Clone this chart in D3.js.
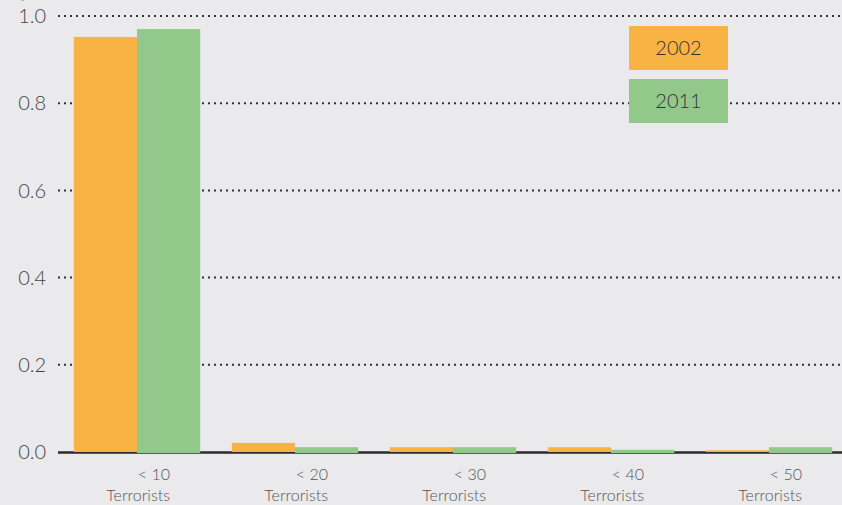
<!DOCTYPE html>
<html lang="en">
<head>
    <meta charset="UTF-8">
    <title>Terrorists per group, 2002 vs 2011</title>
    <script src="https://d3js.org/d3.v7.min.js"></script>
    <style>
        html, body { margin: 0; padding: 0; background: #eaeaec; overflow: hidden; }
        text { font-family: Lato, "Open Sans", sans-serif; font-weight: 300; }
    </style>
</head>
<body>
    <script>
        // data
        const categories = ["< 10", "< 20", "< 30", "< 40", "< 50"];
        const years = ["2002", "2011"];
        const values2002 = [0.952, 0.021, 0.011, 0.011, 0.004];
        const values2011 = [0.970, 0.011, 0.011, 0.005, 0.011];
        const yTicks = [0, 0.2, 0.4, 0.6, 0.8, 1.0];
        const colors = ["#f9b345", "#92c88a"];

        const width = 842, height = 505;
        const plotLeft = 58, plotTop = 16, plotBottom = 452;

        const svg = d3.select("body").append("svg")
            .attr("width", width)
            .attr("height", height);

        const y = d3.scaleLinear().domain([0, 1]).range([plotBottom, plotTop]);
        const x = d3.scaleBand().domain(categories)
            .range([plotLeft, 848])
            .paddingInner(0.2)
            .paddingOuter(0.1);
        const xSub = d3.scaleBand().domain(years).range([0, x.bandwidth()]);

        // axis title, cut off at the top edge like in the original
        svg.append("text")
            .attr("x", 0).attr("y", -2)
            .attr("font-size", 19).attr("fill", "#666")
            .text("in years");

        // dotted grid lines
        svg.append("g").selectAll("line")
            .data(yTicks.filter(d => d > 0))
            .join("line")
            .attr("x1", plotLeft).attr("x2", width)
            .attr("y1", d => y(d)).attr("y2", d => y(d))
            .attr("stroke", "#333")
            .attr("stroke-width", 2)
            .attr("stroke-dasharray", "2,4");

        // tick labels
        svg.append("g").selectAll("text")
            .data(yTicks)
            .join("text")
            .attr("x", 46)
            .attr("y", d => y(d))
            .attr("dy", "0.36em")
            .attr("text-anchor", "end")
            .attr("font-size", 20)
            .attr("fill", "#444")
            .text(d => d.toFixed(1));

        // baseline
        svg.append("line")
            .attr("x1", plotLeft).attr("x2", width)
            .attr("y1", plotBottom + 0.5).attr("y2", plotBottom + 0.5)
            .attr("stroke", "#2a2a2a")
            .attr("stroke-width", 2.5);

        // bars
        const series = [values2002, values2011];
        const groups = svg.append("g").selectAll("g")
            .data(categories)
            .join("g")
            .attr("transform", d => `translate(${x(d)},0)`);

        groups.selectAll("rect")
            .data((d, i) => years.map((yr, j) => ({ yr, v: series[j][i], j })))
            .join("rect")
            .attr("x", d => xSub(d.yr))
            .attr("width", xSub.bandwidth())
            .attr("y", d => y(d.v))
            .attr("height", d => plotBottom - y(d.v) + (d.j === 1 ? 1 : 0))
            .attr("fill", d => colors[d.j]);

        // category labels
        const labels = svg.append("g").selectAll("g")
            .data(categories)
            .join("g")
            .attr("transform", d => `translate(${x(d) + x.bandwidth() / 2 + 33},0)`);

        labels.append("text")
            .attr("y", 480)
            .attr("text-anchor", "end")
            .attr("font-size", 16)
            .attr("fill", "#555")
            .text(d => d);

        labels.append("text")
            .attr("y", 501)
            .attr("text-anchor", "end")
            .attr("font-size", 16)
            .attr("fill", "#555")
            .text("Terrorists");

        // legend
        const legend = svg.append("g").selectAll("g")
            .data(years)
            .join("g")
            .attr("transform", (d, i) => `translate(629,${26 + i * 53})`);

        legend.append("rect")
            .attr("width", 99).attr("height", 44)
            .attr("fill", (d, i) => colors[i]);

        legend.append("text")
            .attr("x", 49.5).attr("y", 22)
            .attr("dy", "0.36em")
            .attr("text-anchor", "middle")
            .attr("font-size", 20)
            .attr("fill", "#333")
            .text(d => d);
    </script>
</body>
</html>
